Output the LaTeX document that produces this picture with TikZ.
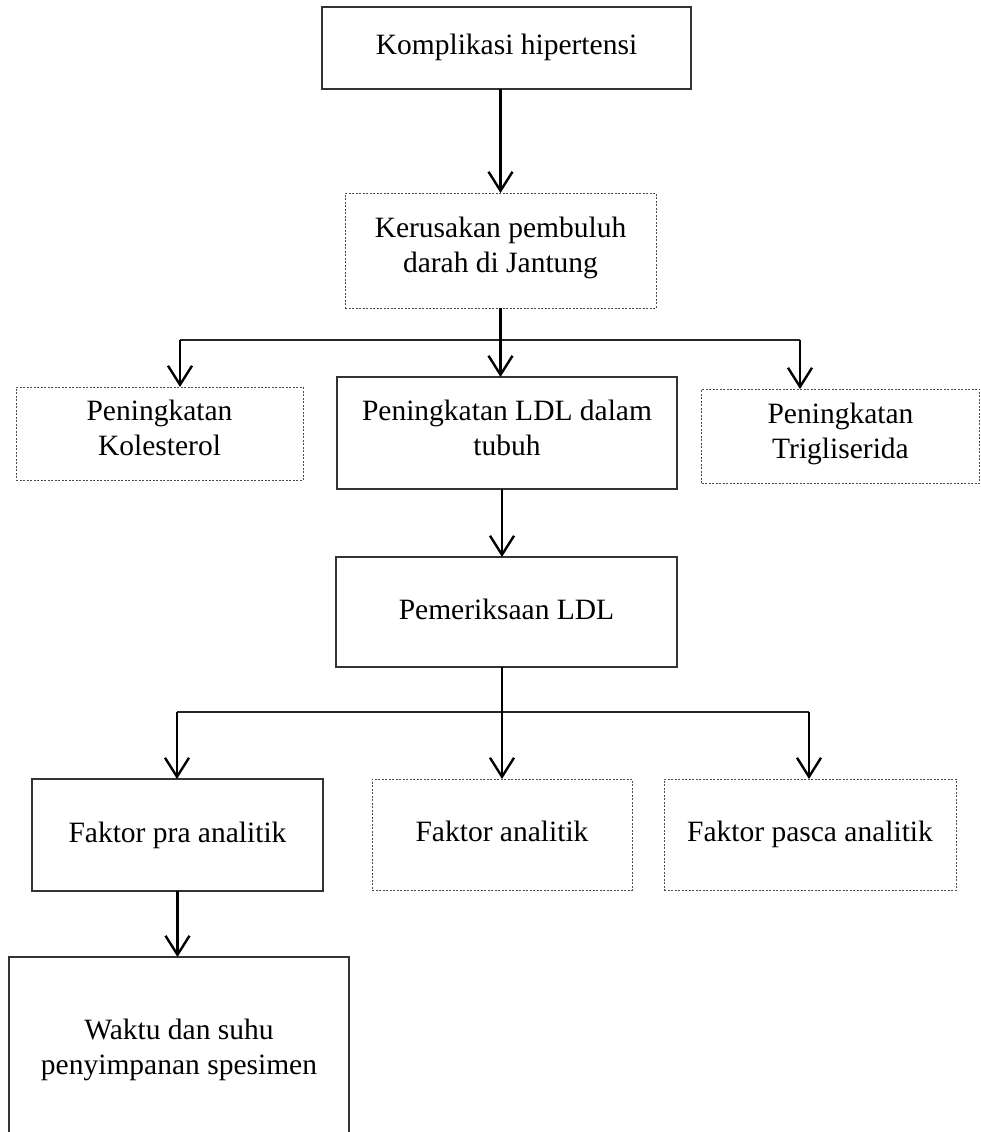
\documentclass[tikz,border=0pt]{standalone}
\usepackage{fontspec}
\setmainfont{Liberation Serif}
\usetikzlibrary{arrows.meta}
\begin{document}
\begin{tikzpicture}[x=1pt,y=-1pt,
  every node/.style={inner sep=0pt,outer sep=0pt,align=center,
    font=\fontsize{29.5}{35}\selectfont,
    execute at begin node=\strut, execute at end node=\strut},
  solidbox/.style={draw=black!80,line width=1.2pt,rectangle},
  dotbox/.style={draw=black!70,line width=1pt,dash pattern=on 2pt off 1.5pt,rectangle},
  arr/.style={line width=2.4pt,-{Straight Barb[length=19pt,width=24pt,line width=2.4pt]}},
  hline/.style={line width=1.2pt,draw=black!85}]
\useasboundingbox (0,0) rectangle (981,1132);
\node[solidbox,minimum width=369pt,minimum height=82pt] (b1) at (506.5,48) {Komplikasi hipertensi};
\node[dotbox,minimum width=311pt,minimum height=115pt] (b2) at (500.5,250.5) {Kerusakan pembuluh\\darah di Jantung};
\node[dotbox,minimum width=287pt,minimum height=93pt] (b3) at (159.5,433.5) {Peningkatan\\Kolesterol};
\node[solidbox,minimum width=340pt,minimum height=112pt] (b4) at (507,433) {Peningkatan LDL dalam\\tubuh};
\node[dotbox,minimum width=278pt,minimum height=94pt] (b5) at (840.5,436) {Peningkatan\\Trigliserida};
\node[solidbox,minimum width=341pt,minimum height=110pt] (b6) at (506.5,612) {Pemeriksaan LDL};
\node[solidbox,minimum width=291pt,minimum height=112pt] (b7) at (177.5,835) {Faktor pra analitik};
\node[dotbox,minimum width=260pt,minimum height=111pt] (b8) at (502,834.5) {Faktor analitik};
\node[dotbox,minimum width=292pt,minimum height=111pt] (b9) at (810,834.5) {Faktor pasca analitik};
\node[solidbox,minimum width=340pt,minimum height=190pt] (b10) at (179,1052) {Waktu dan suhu\\penyimpanan spesimen};
% upper branch
\coordinate (u1) at (180,340);
\coordinate (u2) at (502,340);
\coordinate (u3) at (800,340);
\draw[arr] (b1.south -| b2.north) -- (b2.north);
\draw[hline] (u1) -- (u3);
\draw[arr] (b2.south) -- (b2.south |- b4.north);
\draw[arr] (u1) -- (u1 |- b3.north);
\draw[arr] (u3) -- (u3 |- b5.north);
\draw[arr] (b4.south -| u2) -- (u2 |- b6.north);
% lower branch
\coordinate (l1) at (177,712);
\coordinate (l2) at (502,712);
\coordinate (l3) at (809,712);
\draw[hline] (l1) -- (l3);
\draw[arr] (b6.south -| l2) -- (l2 |- b8.north);
\draw[arr] (l1) -- (l1 |- b7.north);
\draw[arr] (l3) -- (l3 |- b9.north);
\draw[arr] (b7.south) -- (b7.south |- b10.north);
\end{tikzpicture}
\end{document}
